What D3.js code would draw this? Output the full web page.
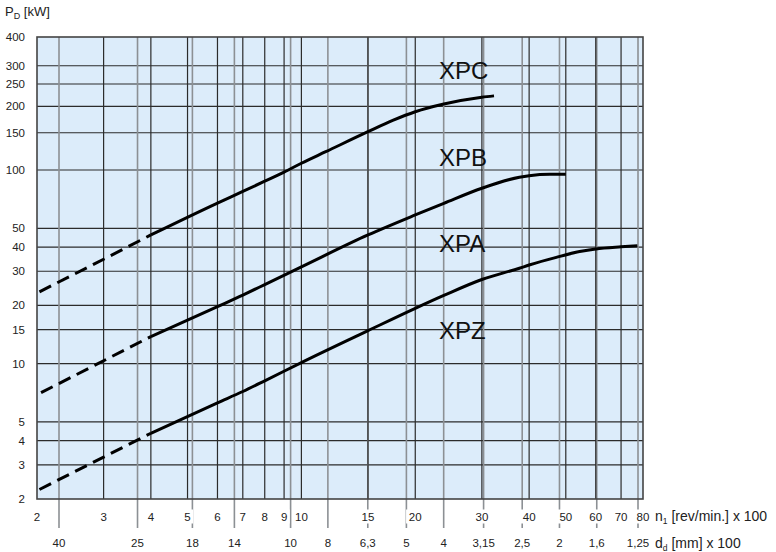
<!DOCTYPE html>
<html>
<head>
<meta charset="utf-8">
<script src="https://cdn.jsdelivr.net/npm/d3@7"></script>
<style>
  html, body { margin: 0; padding: 0; background: #fff; }
  svg { display: block; font-family: "Liberation Sans", Arial, sans-serif; }
</style>
</head>
<body>
<svg id="chart" width="776" height="552"></svg>
<script>
// ---- data ----
const nTicks = [2, 3, 4, 5, 6, 7, 8, 9, 10, 15, 20, 30, 40, 50, 60, 70, 80];
const nGrid = [3, 4, 5, 6, 7, 8, 9, 10, 15, 20, 30, 40, 50, 60, 70];
const dTicks = [40, 25, 18, 14, 10, 8, 6.3, 5, 4, 3.15, 2.5, 2, 1.6, 1.25];
const dLabels = ["40", "25", "18", "14", "10", "8", "6,3", "5", "4", "3,15", "2,5", "2", "1,6", "1,25"];
const pTicks = [2, 3, 4, 5, 10, 15, 20, 30, 40, 50, 100, 150, 200, 250, 300, 400];
const curveLabels = ["XPC", "XPB", "XPA", "XPZ"];

// curve 1 (top)
const c1DashN = [2.03, 3, 4];
const c1DashP = [23.5, 34.6, 46.2];
const c1N = [4, 6, 7, 8, 9, 10, 11.6, 15, 17.5, 20, 23.8, 30, 32.3];
const c1P = [46.2, 67.5, 77.5, 87.5, 97.5, 107.6, 122, 151.7, 172, 188.5, 204.6, 218.9, 222];
// curve 2 (middle)
const c2DashN = [2.05, 4];
const c2DashP = [7.08, 13.8];
const c2N = [4, 6, 7, 8, 10, 15, 20, 23.8, 30, 37.7, 40, 45.4, 50];
const c2P = [13.8, 19.7, 22.6, 25.6, 31.6, 46.2, 58.6, 67.3, 80.5, 91.8, 93.5, 95.1, 95.1];
// curve 3 (bottom)
const c3DashN = [2.03, 4];
const c3DashP = [2.24, 4.37];
const c3N = [4, 6, 7, 8, 10, 15, 20, 23.8, 30, 37.7, 40, 47.2, 54.4, 60, 70, 77.3];
const c3P = [4.37, 6.28, 7.18, 8.15, 10.13, 14.8, 19.3, 22.5, 27.2, 31.1, 32.3, 35.4, 37.9, 39.1, 40.1, 40.6];

// ---- layout ----
const L = 37, R = 643, T = 37, B = 499;
const svg = d3.select("#chart");

const x = d3.scaleLog().domain([2, 80]).range([L, R]);
const xd = d3.scaleLog().domain([40, 1.25]).range([59, 638]);
const y = d3.scaleLog().domain([2, 100, 200, 400]).range([B, 170, 106.3, T]);

// background
svg.append("rect").attr("x", L).attr("y", T).attr("width", R - L).attr("height", B - T)
  .attr("fill", "#dcecfa");

// horizontal grid
svg.append("g").selectAll("line").data(pTicks.filter(v => v > 2 && v < 400)).join("line")
  .attr("x1", L).attr("x2", R).attr("y1", d => y(d)).attr("y2", d => y(d))
  .attr("stroke", "#2b2b2b").attr("stroke-width", 1.2);

// d grid (grey, extending below plot)
svg.append("g").selectAll("line").data(dTicks).join("line")
  .attr("x1", d => xd(d)).attr("x2", d => xd(d)).attr("y1", T).attr("y2", 528)
  .attr("stroke", "#8c9094").attr("stroke-width", 1.6);

// n grid
svg.append("g").selectAll("line").data(nGrid).join("line")
  .attr("x1", d => x(d)).attr("x2", d => x(d)).attr("y1", T).attr("y2", B)
  .attr("stroke", "#2b2b2b").attr("stroke-width", 1.2);

// border
svg.append("rect").attr("x", L).attr("y", T).attr("width", R - L).attr("height", B - T)
  .attr("fill", "none").attr("stroke", "#444").attr("stroke-width", 1.6);

// y tick labels
svg.append("g").selectAll("text").data(pTicks).join("text")
  .attr("x", 25).attr("y", d => y(d)).attr("dy", "0.36em")
  .attr("text-anchor", "end").attr("font-size", 11.5).attr("fill", "#222")
  .text(d => d);

// n tick labels with white backing
const nl = svg.append("g").selectAll("g").data(nTicks).join("g")
  .attr("transform", d => `translate(${x(d)},516.5)`);
nl.append("rect").attr("x", d => -(String(d).length * 3.6 + 2)).attr("y", -7)
  .attr("width", d => String(d).length * 7.2 + 4).attr("height", 14).attr("fill", "#fff");
nl.append("text").attr("text-anchor", "middle").attr("dy", "0.36em")
  .attr("font-size", 11.5).attr("fill", "#222").text(d => d);

// d tick labels
svg.append("g").selectAll("text").data(dTicks).join("text")
  .attr("x", d => xd(d)).attr("y", 542.5).attr("dy", "0.36em")
  .attr("text-anchor", "middle").attr("font-size", 11.5).attr("fill", "#222")
  .text((d, i) => dLabels[i]);

// axis titles
const yt = svg.append("text").attr("x", 5).attr("y", 16).attr("font-size", 13).attr("fill", "#222");
yt.append("tspan").text("P");
yt.append("tspan").attr("font-size", 9).attr("dy", 3).text("D");
yt.append("tspan").attr("dy", -3).text(" [kW]");

const nt = svg.append("text").attr("x", 655).attr("y", 521).attr("font-size", 14).attr("fill", "#222");
nt.append("tspan").text("n");
nt.append("tspan").attr("font-size", 8.5).attr("dy", 3).text("1");
nt.append("tspan").attr("dy", -3).text(" [rev/min.] x 100");

const dt = svg.append("text").attr("x", 655).attr("y", 547.5).attr("font-size", 14).attr("fill", "#222");
dt.append("tspan").text("d");
dt.append("tspan").attr("font-size", 8.5).attr("dy", 3).text("d");
dt.append("tspan").attr("dy", -3).text(" [mm] x 100");

// curves
const line = d3.line().x(d => x(d[0])).y(d => y(d[1])).curve(d3.curveMonotoneX);
const zip = (a, b) => a.map((v, i) => [v, b[i]]);
const dashed = [zip(c1DashN, c1DashP), zip(c2DashN, c2DashP), zip(c3DashN, c3DashP)];
const solid = [zip(c1N, c1P), zip(c2N, c2P), zip(c3N, c3P)];

svg.append("g").selectAll("path").data(dashed).join("path")
  .attr("d", line).attr("fill", "none").attr("stroke", "#000")
  .attr("stroke-width", 3).attr("stroke-dasharray", "13,7");
svg.append("g").selectAll("path").data(solid).join("path")
  .attr("d", line).attr("fill", "none").attr("stroke", "#000")
  .attr("stroke-width", 3).attr("stroke-linecap", "butt");

// curve labels
const labelY = [78.5, 165.5, 252, 338.5];
svg.append("g").selectAll("text").data(curveLabels).join("text")
  .attr("x", 439).attr("y", (d, i) => labelY[i])
  .attr("font-size", 24).attr("fill", "#111").text(d => d);
</script>
</body>
</html>
